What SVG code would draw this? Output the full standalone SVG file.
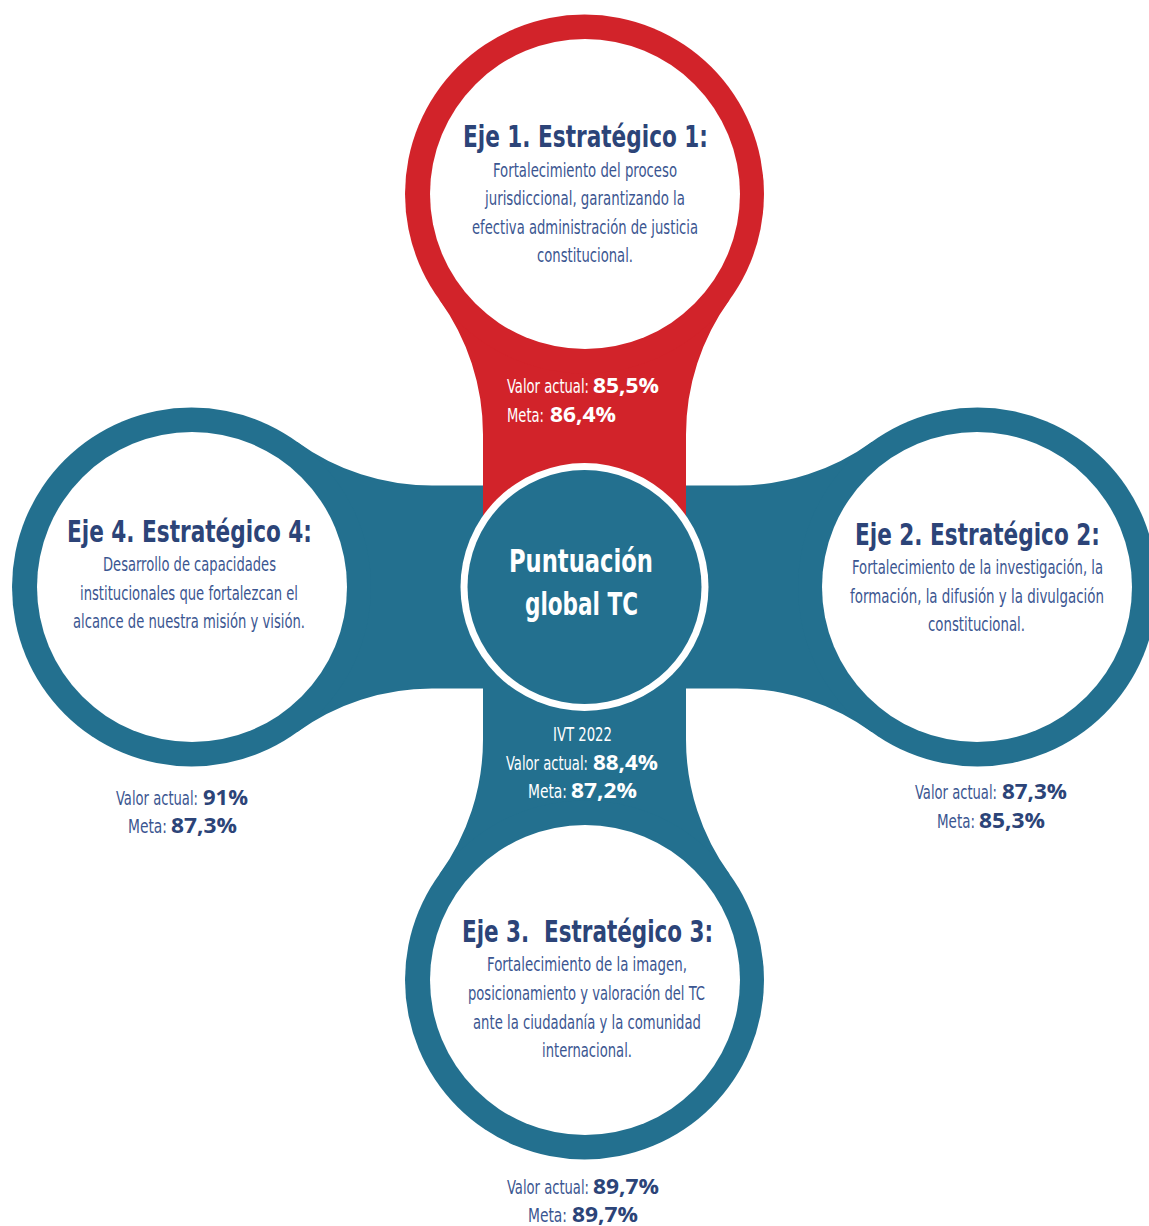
<svg xmlns="http://www.w3.org/2000/svg" width="1149" height="1226" viewBox="0 0 1149 1226">
<style>
.t{font-family:"Liberation Sans Narrow","DejaVu Sans Condensed","Liberation Sans",sans-serif;font-weight:bold;font-size:31px;fill:#2c4478}
.b{font-family:"Liberation Sans Narrow","DejaVu Sans Condensed","Liberation Sans",sans-serif;font-size:19px;fill:#3b5691}
.v{font-family:"Open Sans","Liberation Sans",sans-serif;font-weight:bold;font-size:21px;fill:#2c4478}
.ct{font-family:"Liberation Sans Narrow","DejaVu Sans Condensed","Liberation Sans",sans-serif;font-weight:bold;font-size:32px;fill:#fff}
.w{fill:#fff}
.blue{fill:#23708f}
.red{fill:#d2232a}
</style>
<defs>
<path id="arm" d="M105.4,-145.3 A230,230 0 0 0 240.4,-101.5 L393,-101.5 L393,101.5 L240.4,101.5 A230,230 0 0 0 105.4,145.3 Z"/>
</defs>
<rect width="1149" height="1226" fill="#fff"/>
<g id="connectors">
<use href="#arm" class="blue" transform="translate(191.5,587)"/>
<use href="#arm" class="blue" transform="translate(977.5,587) rotate(180)"/>
<use href="#arm" class="blue" transform="translate(584.5,980) rotate(-90)"/>
<use href="#arm" class="red" transform="translate(584.5,194) rotate(90)"/>
</g>
<g id="eje1">
<circle cx="584.5" cy="194" r="179.5" class="red"/>
<circle cx="585" cy="194" r="155" class="w"/>
<text class="t" x="463" y="147" textLength="245" lengthAdjust="spacingAndGlyphs">Eje 1. Estratégico 1:</text>
<text class="b" x="493" y="177" textLength="184" lengthAdjust="spacingAndGlyphs">Fortalecimiento del proceso</text>
<text class="b" x="485" y="205" textLength="200" lengthAdjust="spacingAndGlyphs">jurisdiccional, garantizando la</text>
<text class="b" x="472" y="233.5" textLength="226" lengthAdjust="spacingAndGlyphs">efectiva administración de justicia</text>
<text class="b" x="537" y="261.5" textLength="96" lengthAdjust="spacingAndGlyphs">constitucional.</text>
<text class="b w" transform="translate(507,393) scale(0.76,1)" textLength="107.9" lengthAdjust="spacingAndGlyphs">Valor actual:</text>
<text class="v w" x="593" y="393" textLength="66" lengthAdjust="spacingAndGlyphs">85,5%</text>
<text class="b w" transform="translate(507,421.5) scale(0.78,1)" textLength="47.4" lengthAdjust="spacingAndGlyphs">Meta:</text>
<text class="v w" x="550" y="421.5" textLength="66" lengthAdjust="spacingAndGlyphs">86,4%</text>
</g>
<g id="eje2">
<circle cx="977.5" cy="587" r="179.5" class="blue"/>
<circle cx="977" cy="587" r="155" class="w"/>
<text class="t" transform="translate(855,545) scale(0.78,1)" textLength="314" lengthAdjust="spacingAndGlyphs">Eje 2. Estratégico 2:</text>
<text class="b" transform="translate(852,574) scale(0.75,1)" textLength="334.7" lengthAdjust="spacingAndGlyphs">Fortalecimiento de la investigación, la</text>
<text class="b" transform="translate(850,602.5) scale(0.75,1)" textLength="338.7" lengthAdjust="spacingAndGlyphs">formación, la difusión y la divulgación</text>
<text class="b" x="928" y="631" textLength="97" lengthAdjust="spacingAndGlyphs">constitucional.</text>
<text class="b" transform="translate(915,799) scale(0.76,1)" textLength="107.9" lengthAdjust="spacingAndGlyphs">Valor actual:</text>
<text class="v" x="1002" y="799" textLength="65" lengthAdjust="spacingAndGlyphs">87,3%</text>
<text class="b" transform="translate(937,828) scale(0.78,1)" textLength="48.7" lengthAdjust="spacingAndGlyphs">Meta:</text>
<text class="v" x="979" y="828" textLength="66" lengthAdjust="spacingAndGlyphs">85,3%</text>
</g>
<g id="eje3">
<circle cx="584.5" cy="980" r="179.5" class="blue"/>
<circle cx="585" cy="980" r="155" class="w"/>
<text class="t" x="462" y="942" textLength="251" lengthAdjust="spacingAndGlyphs">Eje 3.&#160; Estratégico 3:</text>
<text class="b" x="487" y="971" textLength="200" lengthAdjust="spacingAndGlyphs">Fortalecimiento de la imagen,</text>
<text class="b" x="468" y="999.5" textLength="237" lengthAdjust="spacingAndGlyphs">posicionamiento y valoración del TC</text>
<text class="b" x="473" y="1028.5" textLength="228" lengthAdjust="spacingAndGlyphs">ante la ciudadanía y la comunidad</text>
<text class="b" x="542" y="1057" textLength="90" lengthAdjust="spacingAndGlyphs">internacional.</text>
<text class="b" transform="translate(507,1194) scale(0.76,1)" textLength="107.9" lengthAdjust="spacingAndGlyphs">Valor actual:</text>
<text class="v" x="593" y="1194" textLength="66" lengthAdjust="spacingAndGlyphs">89,7%</text>
<text class="b" transform="translate(528,1222) scale(0.78,1)" textLength="50" lengthAdjust="spacingAndGlyphs">Meta:</text>
<text class="v" x="572" y="1222" textLength="66" lengthAdjust="spacingAndGlyphs">89,7%</text>
</g>
<g id="eje4">
<circle cx="191.5" cy="587" r="179.5" class="blue"/>
<circle cx="192" cy="587" r="155" class="w"/>
<text class="t" x="67" y="542" textLength="245" lengthAdjust="spacingAndGlyphs">Eje 4. Estratégico 4:</text>
<text class="b" x="103" y="571" textLength="173" lengthAdjust="spacingAndGlyphs">Desarrollo de capacidades</text>
<text class="b" x="80" y="599.5" textLength="218" lengthAdjust="spacingAndGlyphs">institucionales que fortalezcan el</text>
<text class="b" x="73" y="628" textLength="232" lengthAdjust="spacingAndGlyphs">alcance de nuestra misión y visión.</text>
<text class="b" transform="translate(116,805) scale(0.76,1)" textLength="107.9" lengthAdjust="spacingAndGlyphs">Valor actual:</text>
<text class="v" x="203" y="805" textLength="45" lengthAdjust="spacingAndGlyphs">91%</text>
<text class="b" transform="translate(128,833) scale(0.78,1)" textLength="50" lengthAdjust="spacingAndGlyphs">Meta:</text>
<text class="v" x="171" y="833" textLength="66" lengthAdjust="spacingAndGlyphs">87,3%</text>
</g>
<g id="center">
<circle cx="584.5" cy="587" r="124" class="w"/>
<circle cx="584.5" cy="587" r="117" class="blue"/>
<text class="ct" x="509" y="572" textLength="144" lengthAdjust="spacingAndGlyphs">Puntuación</text>
<text class="ct" x="525" y="615" textLength="113" lengthAdjust="spacingAndGlyphs">global TC</text>
<text class="b w" transform="translate(553,741) scale(0.78,1)" textLength="75.6" lengthAdjust="spacingAndGlyphs">IVT 2022</text>
<text class="b w" transform="translate(506,769.5) scale(0.76,1)" textLength="107.9" lengthAdjust="spacingAndGlyphs">Valor actual:</text>
<text class="v w" x="593" y="769.5" textLength="65" lengthAdjust="spacingAndGlyphs">88,4%</text>
<text class="b w" transform="translate(528,797.5) scale(0.78,1)" textLength="50" lengthAdjust="spacingAndGlyphs">Meta:</text>
<text class="v w" x="571" y="797.5" textLength="66" lengthAdjust="spacingAndGlyphs">87,2%</text>
</g>
</svg>
